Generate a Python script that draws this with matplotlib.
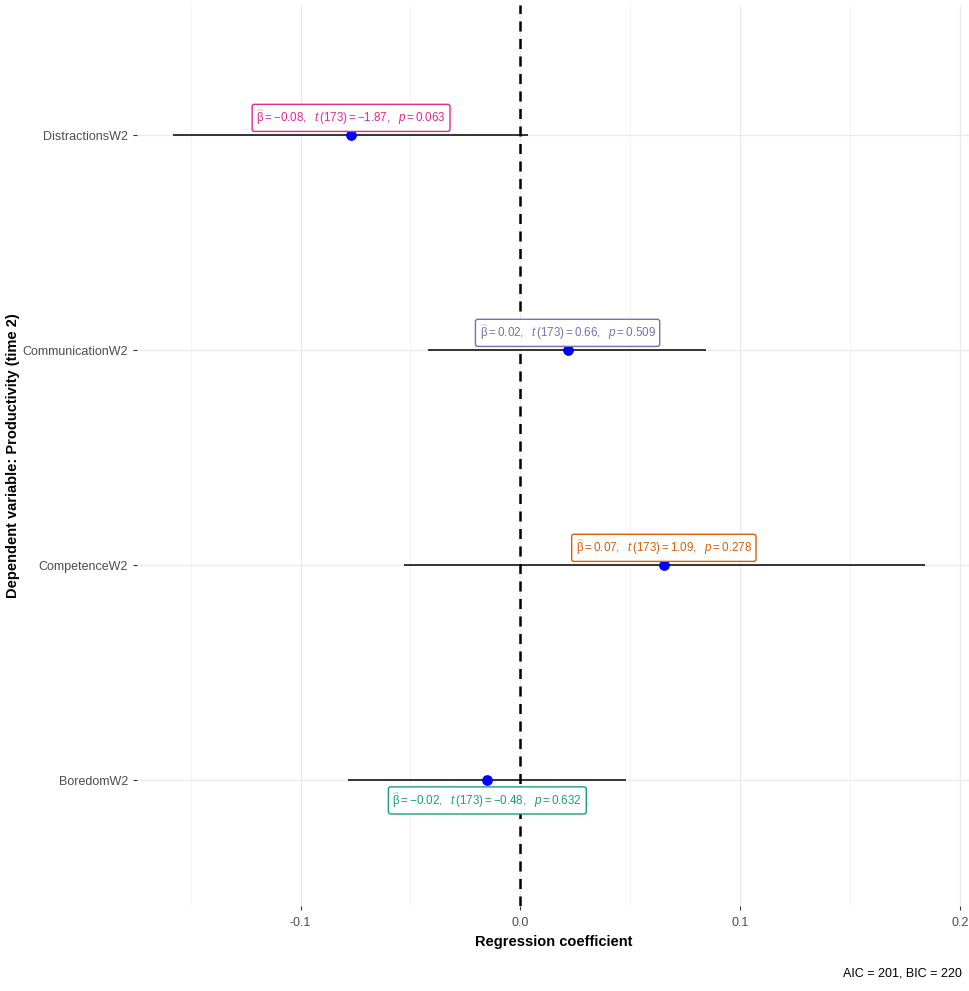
import numpy as np
import matplotlib
matplotlib.use("Agg")
import matplotlib.pyplot as plt

plt.rcParams['font.family'] = ['Liberation Sans', 'DejaVu Sans']
plt.rcParams['mathtext.fontset'] = 'custom'
plt.rcParams['mathtext.rm'] = 'Liberation Sans'
plt.rcParams['mathtext.it'] = 'Liberation Sans:italic'
plt.rcParams['mathtext.bf'] = 'Liberation Sans:bold'

# donnees
termes = ['BoredomW2', 'CompetenceW2', 'CommunicationW2', 'DistractionsW2']
estimation = [-0.015, 0.0653, 0.0215, -0.077]
ic_bas = [-0.0785, -0.053, -0.042, -0.158]
ic_haut = [0.048, 0.184, 0.0845, 0.0037]
beta_txt = ['-0.02', '0.07', '0.02', '-0.08']
t_txt = ['-0.48', '1.09', '0.66', '-1.87']
p_txt = ['0.632', '0.278', '0.509', '0.063']
couleurs = ['#1B9E77', '#D95F02', '#7570B3', '#E7298A']
decalage = [-0.095, 0.08, 0.08, 0.08]  # position du label (au dessus / en dessous)

fig = plt.figure(figsize=(9.7, 9.91), dpi=100)
ax = fig.add_axes([137/970, 1-906/991, 833/970, 901/991])

y = np.arange(1, len(termes)+1)

# grille style theme_minimal
for xv in [-0.15, -0.05, 0.05, 0.15]:
    ax.axvline(xv, color='#F2F2F2', lw=0.6, zorder=0)
for xv in [-0.1, 0.0, 0.1, 0.2]:
    ax.axvline(xv, color='#EBEBEB', lw=1.0, zorder=0)
for yv in y:
    ax.axhline(yv, color='#EBEBEB', lw=1.0, zorder=0)

ax.hlines(y, ic_bas, ic_haut, color='black', lw=1.1, zorder=2)
ax.axvline(0, color='black', lw=1.8, ls=(0, (4, 3)), zorder=3)
ax.scatter(estimation, y, s=45, color='blue', zorder=4)

for i in range(len(termes)):
    lab = r'$\widehat{\mathrm{\beta}}=%s,\ \ \mathit{t}\,(173)=%s,\ \ \mathit{p}=%s$' % (
        beta_txt[i], t_txt[i], p_txt[i])
    ax.text(estimation[i], y[i] + decalage[i], lab, color=couleurs[i], fontsize=8.4,
            ha='center', va='center', zorder=5,
            bbox=dict(boxstyle='round,pad=0.35,rounding_size=0.2', fc='white',
                      ec=couleurs[i], lw=1.0))

ax.set_xlim(-0.1744, 0.2046)
ax.set_ylim(0.414, 4.605)
ax.set_xticks([-0.1, 0.0, 0.1, 0.2])
ax.set_xticklabels(['-0.1', '0.0', '0.1', '0.2'])
ax.set_yticks(y)
ax.set_yticklabels(termes)
ax.tick_params(axis='both', colors='#333333', labelcolor='#4D4D4D', labelsize=9,
               length=3, width=0.8)
ax.tick_params(axis='x', pad=5)
for s in ax.spines.values():
    s.set_visible(False)

ax.set_xlabel('Regression coefficient', fontsize=10.5, fontweight='bold', labelpad=4)
ax.set_ylabel('Dependent variable: Productivity (time 2)', fontsize=10.5,
              fontweight='bold', labelpad=2)

fig.text(962/970, 1-973/991, 'AIC = 201, BIC = 220', ha='right', va='center', fontsize=9)

fig.savefig('out.png', dpi=100)
